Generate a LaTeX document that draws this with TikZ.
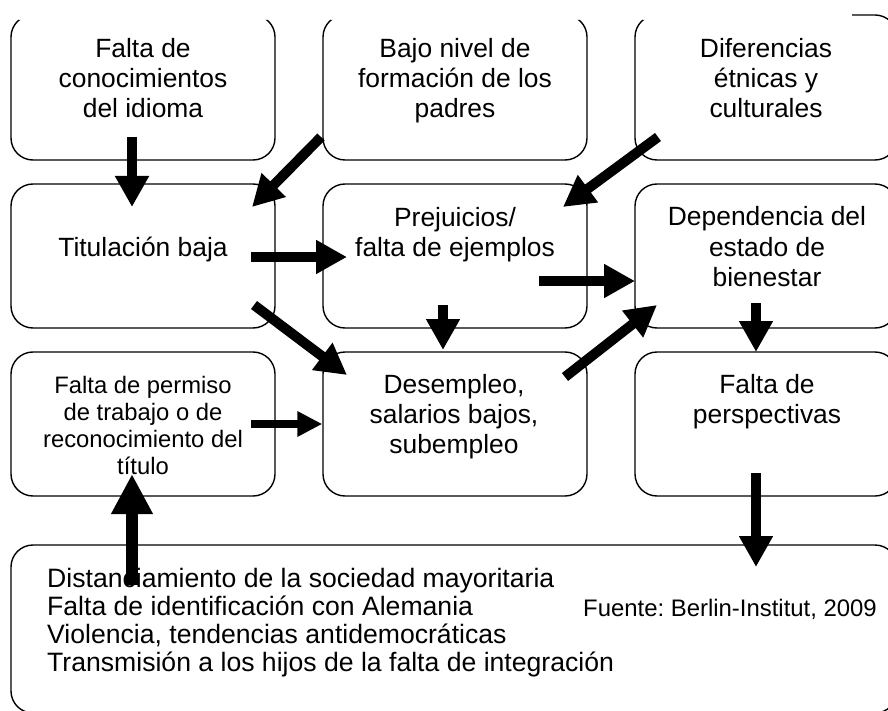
\documentclass[tikz,border=0pt]{standalone}
\usepackage{fontspec}
\setmainfont{Liberation Sans}
\frenchspacing
\usetikzlibrary{arrows.meta}
\tikzset{
  box/.style={draw, line width=1.4pt, rounded corners=22pt, minimum width=264pt, minimum height=144pt, inner sep=0pt},
  boxtext/.style={anchor=base, align=center, inner sep=0pt, font=\fontsize{26.4}{30}\selectfont},
  smalltext/.style={anchor=base, align=center, inner sep=0pt, font=\fontsize{23.8}{27}\selectfont},
  bigarrow/.style={line width=10pt, -{Triangle[width=32pt,length=31pt]}},
  thinarrow/.style={line width=8pt, -{Triangle[width=24pt,length=25pt]}},
  uparrow/.style={line width=12pt, -{Triangle[width=39pt,length=40pt]}},
}
\begin{document}
\begin{tikzpicture}[x=1pt, y=-1pt]
\useasboundingbox (0,0) rectangle (888,711);
\begin{scope}
  \clip (0,20) rectangle (888,711) (852,0) rectangle (888,20);
  \node[box, minimum height=145pt] (lang) at (143,87.5) {};
  \node[box, minimum height=145pt] (padres) at (455,87.5) {};
  \node[box, minimum height=145pt, minimum width=262pt] (etnia) at (766,87.5) {};
  \node[box] (titul) at (143,256) {};
  \node[box] (prej) at (455,256) {};
  \node[box, minimum width=262pt] (depend) at (766,256) {};
  \node[box] (permiso) at (143,424) {};
  \node[box] (desemp) at (455,424) {};
  \node[box, minimum width=262pt] (perspect) at (766,424) {};
  \node[box, minimum width=886pt, minimum height=168pt] (mayor) at (454,629) {};
\end{scope}
\node[boxtext] (tlang) at (143,118) {Falta de\\conocimientos\\del idioma};
\node[boxtext] (tpadres) at (455,118) {Bajo nivel de\\formación de los\\padres};
\node[boxtext] (tetnia) at (766,118) {Diferencias\\étnicas y\\culturales};
\node[boxtext] (ttitul) at (143,257) {Titulación baja};
\node[boxtext] (tprej) at (455,257) {Prejuicios/\\falta de ejemplos};
\node[boxtext] (tdepend) at (767,286) {Dependencia del\\estado de\\bienestar};
\node[smalltext] (tpermiso) at (143,474) {Falta de permiso\\de trabajo o de\\reconocimiento del\\título};
\node[boxtext] (tdesemp) at (454,453) {Desempleo,\\salarios bajos,\\subempleo};
\node[boxtext] (tperspect) at (767,423) {Falta de\\perspectivas};
\node[anchor=base west, align=left, inner sep=0pt, font=\fontsize{26.6}{28}\selectfont] (tmayor) at (47,671)
  {Distanciamiento de la sociedad mayoritaria\\Falta de identificación con Alemania\\Violencia, tendencias antidemocráticas\\Transmisión a los hijos de la falta de integración};
\node[anchor=base west, inner sep=0pt, font=\fontsize{23.9}{28}\selectfont] (fuente) at (583,616) {Fuente: Berlin-Institut, 2009};
\draw[bigarrow] ([shift={(-11,49.5)}]lang.center) -- ([shift={(-11,-49)}]titul.center);
\draw[bigarrow] ([shift={(-134,49.5)}]padres.center) -- ([shift={(109,-49)}]titul.center);
\draw[bigarrow] ([shift={(-108,49.5)}]etnia.center) -- ([shift={(108,-49)}]prej.center);
\draw[bigarrow] ([shift={(108,1)}]titul.center) -- ([shift={(-108,1)}]prej.center);
\draw[bigarrow] ([shift={(84,25)}]prej.center) -- ([shift={(-131,25)}]depend.center);
\draw[bigarrow] ([shift={(-12,49)}]prej.center) -- ([shift={(-12,-74)}]desemp.center);
\draw[bigarrow] ([shift={(111,49)}]titul.center) -- ([shift={(-108,-49)}]desemp.center);
\draw[bigarrow] ([shift={(110,-47)}]desemp.center) -- ([shift={(-109,49)}]depend.center);
\draw[bigarrow] ([shift={(-10,47)}]depend.center) -- ([shift={(-10,-72)}]perspect.center);
\draw[bigarrow] ([shift={(-10,49)}]perspect.center) -- ([shift={(302,-62)}]mayor.center);
\draw[thinarrow] ([shift={(108,0)}]permiso.center) -- (desemp.west);
\draw[uparrow] ([shift={(-322,-44)}]mayor.center) -- ([shift={(-11,50)}]permiso.center);
\end{tikzpicture}
\end{document}
